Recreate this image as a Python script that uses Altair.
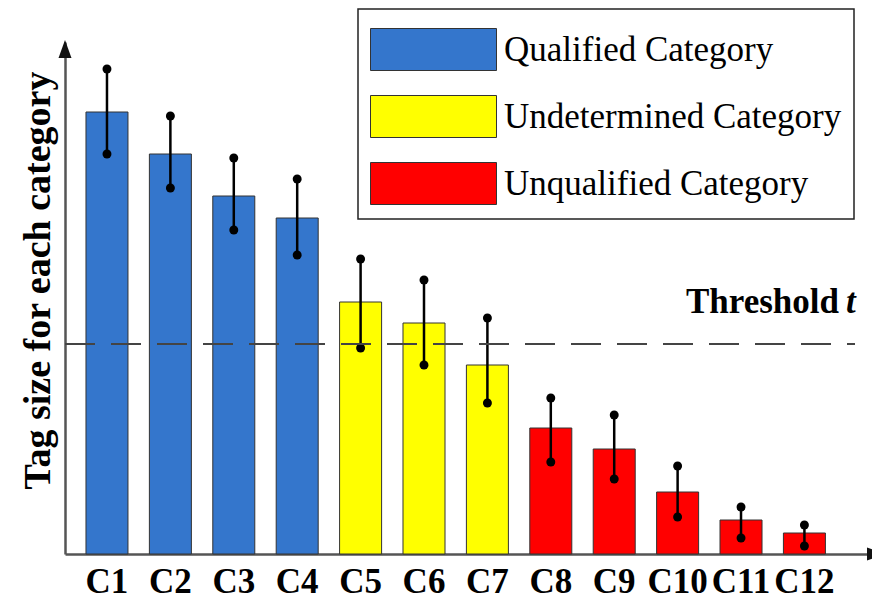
import altair as alt
import pandas as pd

# ---------------- data ----------------
categories = ["C1", "C2", "C3", "C4", "C5", "C6", "C7", "C8", "C9", "C10", "C11", "C12"]
groups = (["Qualified Category"] * 4 + ["Undetermined Category"] * 3
          + ["Unqualified Category"] * 5)
tag_size = [44.2, 40.0, 35.8, 33.6, 25.2, 23.1, 18.9, 12.6, 10.5, 6.2, 3.4, 2.1]
err_low = [40.0, 36.6, 32.4, 29.9, 20.6, 18.9, 15.1, 9.2, 7.5, 3.7, 1.6, 0.8]
err_high = [48.5, 43.8, 39.6, 37.5, 29.5, 27.4, 23.6, 15.6, 13.9, 8.8, 4.7, 2.9]
threshold = 21.0
threshold_text = ["Threshold", "t"]
legend_labels = ["Qualified Category", "Undetermined Category", "Unqualified Category"]
legend_colors = ["#3476CC", "#FFFF00", "#FF0000"]
y_title = "Tag size for each category"

FONT = "Liberation Serif"

df = pd.DataFrame({"category": categories, "group": groups, "size": tag_size,
                   "low": err_low, "high": err_high})
thr_df = pd.DataFrame({"t": [threshold], "word": [threshold_text[0]], "sym": [threshold_text[1]]})
one_df = pd.DataFrame({"k": [0]})

xscale = alt.Scale(paddingInner=0.3375, paddingOuter=0.517, align=0.32)
xaxis = alt.Axis(title=None, labelFont=FONT, labelFontSize=35, labelFontWeight="bold",
                 labelColor="black", labelAngle=0, labelPadding=10, ticks=False,
                 domainColor="#555", domainWidth=2.5, labelBaseline="top", grid=False)
yscale = alt.Scale(domain=[0, 51.2], nice=False, zero=True)
yaxis = alt.Axis(title=y_title, labels=False, ticks=False, grid=False,
                 domainColor="#555", domainWidth=2.5, titleFont=FONT, titleFontSize=38,
                 titleFontWeight="bold", titleColor="black", titleAngle=270,
                 titleX=-27, titleY=238, titleAlign="center", titleBaseline="middle")

X = alt.X("category:N", sort=categories, scale=xscale, axis=xaxis)

base = alt.Chart(df)

bars = base.mark_bar(stroke="#333", strokeWidth=1).encode(
    x=X,
    y=alt.Y("size:Q", scale=yscale, axis=yaxis),
    color=alt.Color(
        "group:N",
        scale=alt.Scale(domain=legend_labels, range=legend_colors),
        legend=alt.Legend(
            title=" ", titleFontSize=4, titlePadding=3,
            orient="none", legendX=293, legendY=-33,
            symbolType="M-1,-1H5V1H-1Z", symbolSize=1764,
            symbolStrokeColor="#333", symbolStrokeWidth=1, symbolOpacity=1,
            labelFont=FONT, labelFontSize=35, labelColor="black",
            labelOffset=91, labelLimit=600, rowPadding=20, padding=12,
            strokeColor="#222", fillColor="white",
        ),
    ),
)

err_rule = base.mark_rule(color="black", strokeWidth=2.5).encode(
    x=X, y=alt.Y("low:Q", scale=yscale, axis=yaxis), y2="high:Q"
)
err_lo = base.mark_circle(color="black", size=80, opacity=1).encode(
    x=X, y=alt.Y("low:Q", scale=yscale, axis=yaxis)
)
err_hi = base.mark_circle(color="black", size=80, opacity=1).encode(
    x=X, y=alt.Y("high:Q", scale=yscale, axis=yaxis)
)

thr_rule = alt.Chart(thr_df).mark_rule(color="#444", strokeWidth=2, strokeDash=[30, 16]).encode(
    y=alt.Y("t:Q", scale=yscale, axis=yaxis), x=alt.value(0), x2=alt.value(790)
)
thr_word = alt.Chart(thr_df).mark_text(
    font=FONT, fontSize=35, fontWeight="bold", align="right", baseline="alphabetic",
    dy=-31, color="black"
).encode(y=alt.Y("t:Q", scale=yscale, axis=yaxis), x=alt.value(774), text="word:N")
thr_sym = alt.Chart(thr_df).mark_text(
    font=FONT, fontSize=35, fontWeight="bold", fontStyle="italic", align="left",
    baseline="alphabetic", dy=-31, color="black"
).encode(y=alt.Y("t:Q", scale=yscale, axis=yaxis), x=alt.value(781), text="sym:N")

y_arrow = alt.Chart(one_df).mark_point(
    shape="M0,-1L0.72,1L-0.72,1Z", size=324, filled=True, color="#111", opacity=1, strokeWidth=0
).encode(x=alt.value(0), y=alt.value(7))
x_arrow = alt.Chart(one_df).mark_point(
    shape="M1,0L-1,0.72L-1,-0.72Z", size=324, filled=True, color="#111", opacity=1, strokeWidth=0
).encode(x=alt.value(811), y=alt.value(512))

chart = alt.layer(
    bars, err_rule, err_lo, err_hi, thr_rule, thr_word, thr_sym, y_arrow, x_arrow
).properties(
    width=805, height=512,
    padding={"left": 57, "top": 34, "right": 2, "bottom": 46},
    autosize=alt.AutoSizeParams(type="none"),
).configure_view(stroke=None).configure_legend(strokeWidth=1.5)

chart.save("out.html", embed_options={"renderer": "svg", "actions": False})
